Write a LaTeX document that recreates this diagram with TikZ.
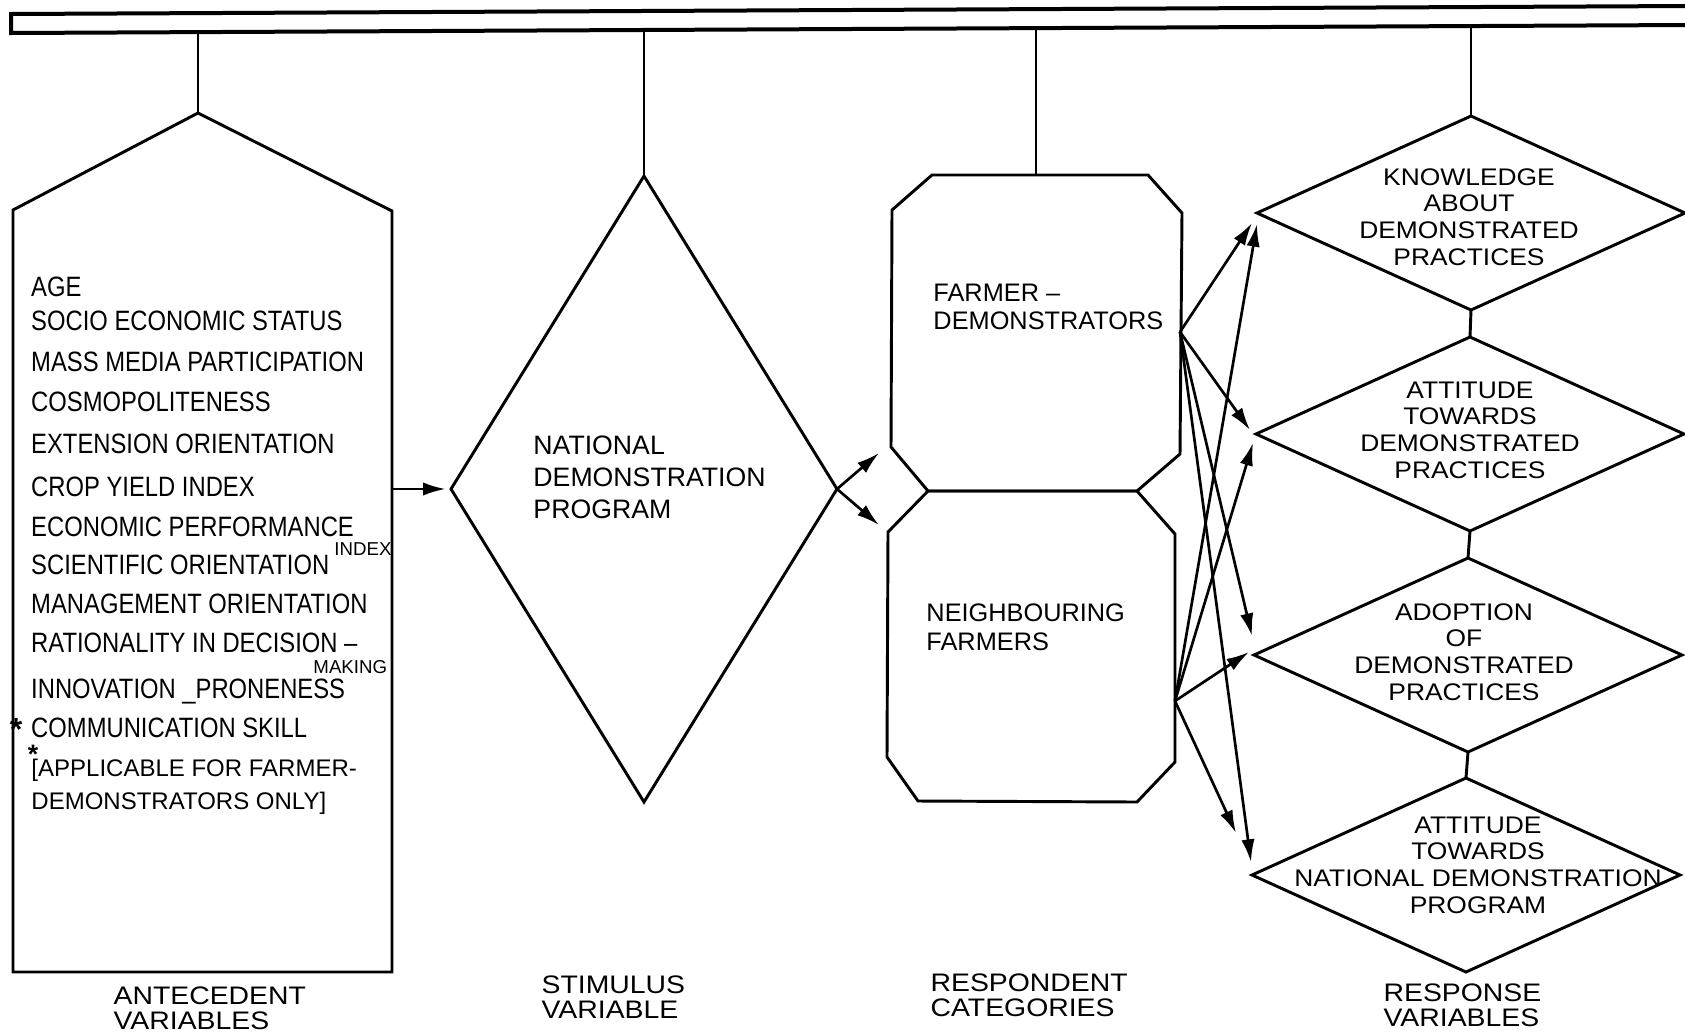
\documentclass[tikz,border=0pt]{standalone}
\usepackage{fontspec}
\setmainfont{Liberation Sans}
\usetikzlibrary{shapes.geometric,arrows.meta}

\tikzset{every picture/.style={line width=2.2pt}}

\begin{document}
\begin{tikzpicture}[x=0.75pt,y=0.75pt,yscale=-1,xscale=1,
	outline/.style={line width=2.2pt,line join=miter},
	flow/.style={line width=2pt,-{Latex[length=17pt,width=10pt]}},
	respshape/.style={draw,diamond,inner sep=0pt,outer sep=0pt,minimum width=321pt,minimum height=145.5pt,line width=2.2pt},
	stimshape/.style={draw,diamond,inner sep=0pt,outer sep=0pt,minimum width=289.5pt,minimum height=469.5pt,line width=2.2pt},
	antvar/.style={anchor=west,inner sep=0pt,text height=15pt,text depth=0pt,font=\fontsize{21}{25}\selectfont,xscale=0.85},
	antnote/.style={anchor=west,inner sep=0pt,text height=13pt,text depth=0pt,font=\fontsize{18}{22}\selectfont},
	subnote/.style={anchor=west,inner sep=0pt,text height=10pt,text depth=0pt,font=\fontsize{14}{16}\selectfont},
	starmark/.style={inner sep=0pt,font=\fontsize{24}{24}\selectfont\bfseries},
	resptext/.style={inner sep=0pt,align=center,font=\fontsize{18}{20}\selectfont,xscale=1.1},
	boxtext/.style={anchor=west,inner sep=0pt,align=left,font=\fontsize{19}{21.5}\selectfont},
	colhead/.style={anchor=west,inner sep=0pt,align=left,font=\fontsize{19}{19}\selectfont,xscale=1.12}
	]
	\useasboundingbox (0,0) rectangle (1685,1033);

	%Shape: Bar
	\draw  [outline,line width=3pt]  (1690,6) -- (11,14) -- (11,33) -- (1690,25) ;
	\coordinate (hang-ant) at (198,32);
	\coordinate (hang-stim) at (644,30);
	\coordinate (hang-resp) at (1036,28);
	\coordinate (hang-out) at (1471,26);

	%Shape: Pentagon
	\draw  [outline]  (198,113) -- (392,211) -- (392,972) -- (13,972) -- (13,210) -- cycle ;
	\coordinate (ant-top) at (198,113);
	\coordinate (ant-out) at (392,489);

	%Shape: Diamond
	\node [stimshape] (stim) at (644,489) {};

	%Shape: Octagon
	\draw  [outline]  (932,175) -- (1148,175) -- (1182,213) -- (1180,454) -- (1137,491) -- (928,491) -- (891,447) -- (892,210) -- cycle ;
	%Shape: Octagon
	\draw  [outline]  (928,491) -- (1137,491) -- (1175,534) -- (1175,762) -- (1137,802) -- (918,801) -- (887,757) -- (888,532) -- cycle ;
	\coordinate (fd-top) at (1036,175);
	\coordinate (fd-in) at (879,453);
	\coordinate (nf-in) at (879,525);
	\coordinate (fd-out) at (1180,332);
	\coordinate (nf-out) at (1175,701);

	%Shape: Diamond
	\node [respshape] (know) at (1471,213) {};
	%Shape: Diamond
	\node [respshape] (attp) at (1470,434) {};
	%Shape: Diamond
	\node [respshape] (adopt) at (1468,655) {};
	%Shape: Diamond
	\node [respshape] (attn) at (1466,875) {};

	%Straight Lines
	\draw  [outline]  (hang-ant) -- (ant-top) ;
	\draw  [outline]  (hang-stim) -- (stim.north) ;
	\draw  [outline]  (hang-resp) -- (fd-top) ;
	\draw  [outline]  (hang-out) -- (know.north) ;
	\draw  [outline]  (know.south) -- (attp.north) ;
	\draw  [outline]  (attp.south) -- (adopt.north) ;
	\draw  [outline]  (adopt.south) -- (attn.north) ;

	%Straight Lines
	\draw  [flow]  (ant-out) -- ([xshift=-4pt]stim.west) ;
	\draw  [flow]  (stim.east) -- (fd-in) ;
	\draw  [flow]  (stim.east) -- (nf-in) ;

	\coordinate (fd-know) at (1252,223);
	\coordinate (nf-know) at (1257,224);
	\coordinate (fd-attp) at (1250,430);
	\coordinate (nf-attp) at (1253,443);
	\coordinate (fd-adopt) at (1252,636);
	\coordinate (nf-adopt) at (1249,652);
	\coordinate (fd-attn) at (1251,862);
	\coordinate (nf-attn) at (1236,833);
	%Straight Lines
	\draw  [flow]  (fd-out) -- (fd-know) ;
	\draw  [flow]  (fd-out) -- (fd-attp) ;
	\draw  [flow]  (fd-out) -- (fd-adopt) ;
	\draw  [flow]  (fd-out) -- (fd-attn) ;
	\draw  [flow]  (nf-out) -- (nf-know) ;
	\draw  [flow]  (nf-out) -- (nf-attp) ;
	\draw  [flow]  (nf-out) -- (nf-adopt) ;
	\draw  [flow]  (nf-out) -- (nf-attn) ;

	% Text Node
	\node [antvar] (age) at (30,286) {AGE};
	% Text Node
	\node [antvar] (ses) at (30,320) {SOCIO ECONOMIC STATUS};
	% Text Node
	\node [antvar] (mmp) at (30,361) {MASS MEDIA PARTICIPATION};
	% Text Node
	\node [antvar] (cosmo) at (30,401) {COSMOPOLITENESS};
	% Text Node
	\node [antvar] (ext) at (30,443) {EXTENSION ORIENTATION};
	% Text Node
	\node [antvar] (cyi) at (30,486) {CROP YIELD INDEX};
	% Text Node
	\node [antvar] (epi) at (30,526) {ECONOMIC PERFORMANCE};
	% Text Node
	\node [antvar] (sci) at (30,564) {SCIENTIFIC ORIENTATION};
	% Text Node
	\node [subnote] (epi-idx) at (333,549) {INDEX};
	% Text Node
	\node [antvar] (mgt) at (30,603) {MANAGEMENT ORIENTATION};
	% Text Node
	\node [antvar] (rat) at (30,642) {RATIONALITY IN DECISION –};
	% Text Node
	\node [subnote] (rat-mk) at (312,667) {MAKING};
	% Text Node
	\node [antvar] (inn) at (30,688) {INNOVATION \_PRONENESS};
	% Text Node
	\node [antvar] (com) at (30,727) {COMMUNICATION SKILL};
	% Text Node
	\node [starmark] (com-star) at (16,729) {*};
	% Text Node
	\node [antnote] (note1) at (30,768) {[APPLICABLE FOR FARMER-};
	% Text Node
	\node [antnote] (note2) at (30,801) {DEMONSTRATORS ONLY]};
	% Text Node
	\node [starmark,font=\fontsize{20}{20}\selectfont\bfseries] (note-star) at (33,754) {*};

	% Text Node
	\node [boxtext,font=\fontsize{20}{24}\selectfont] (ndp) at (532,477) {NATIONAL\\DEMONSTRATION\\PROGRAM};
	% Text Node
	\node [boxtext] (fd) at (932,307) {FARMER –\\DEMONSTRATORS};
	% Text Node
	\node [boxtext] (nf) at (925,627) {NEIGHBOURING\\FARMERS};

	% Text Node
	\node [resptext] (know-t) at (1469,217) {KNOWLEDGE\\ABOUT\\DEMONSTRATED\\PRACTICES};
	% Text Node
	\node [resptext] (attp-t) at (1470,430) {ATTITUDE\\TOWARDS\\DEMONSTRATED\\PRACTICES};
	% Text Node
	\node [resptext] (adopt-t) at (1464,652) {ADOPTION\\OF\\DEMONSTRATED\\PRACTICES};
	% Text Node
	\node [resptext] (attn-t) at (1478,865) {ATTITUDE\\TOWARDS\\NATIONAL DEMONSTRATION\\PROGRAM};

	% Text Node
	\node [colhead] (ant-h) at (112,1008) {ANTECEDENT\\VARIABLES};
	% Text Node
	\node [colhead] (stim-h) at (540,997) {STIMULUS\\VARIABLE};
	% Text Node
	\node [colhead] (resp-h) at (929,995) {RESPONDENT\\CATEGORIES};
	% Text Node
	\node [colhead] (out-h) at (1382,1005) {RESPONSE\\VARIABLES};

\end{tikzpicture}
\end{document}
